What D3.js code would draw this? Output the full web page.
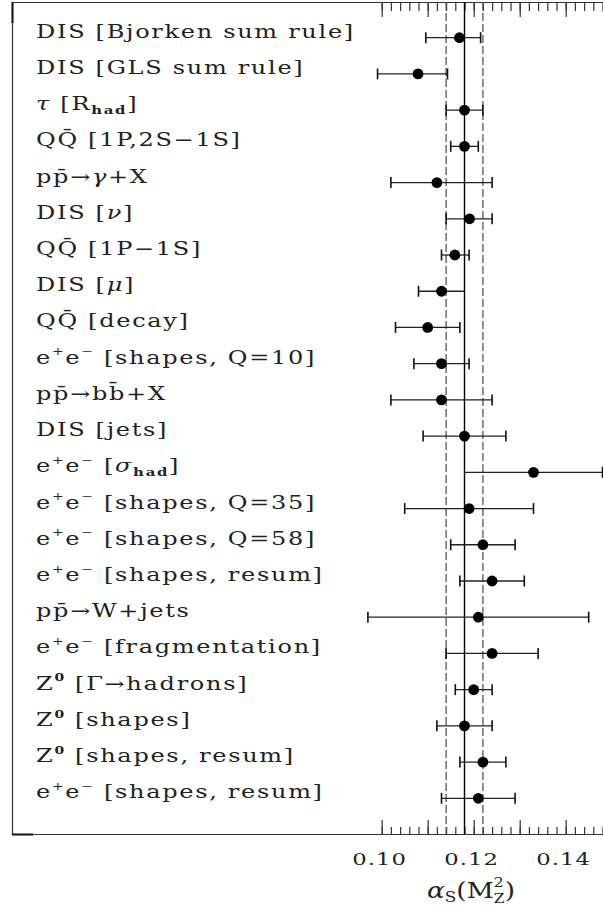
<!DOCTYPE html>
<html>
<head>
<meta charset="utf-8">
<script src="https://cdn.jsdelivr.net/npm/d3@7"></script>
<style>
  html, body { margin: 0; padding: 0; background: #fff; }
  svg { display: block; }
  text { font-family: "DejaVu Serif", serif; fill: #222; }
</style>
</head>
<body>
<div id="chart"></div>
<script>
// measurements, top to bottom
const labels = [
    "DIS [Bjorken sum rule]",
    "DIS [GLS sum rule]",
    "τ [R_{had}]",
    "QQ̄ [1P,2S−1S]",
    "pp̄→γ+X",
    "DIS [ν]",
    "QQ̄ [1P−1S]",
    "DIS [μ]",
    "QQ̄ [decay]",
    "e^{+}e^{−} [shapes, Q=10]",
    "pp̄→bb̄+X",
    "DIS [jets]",
    "e^{+}e^{−} [σ_{had}]",
    "e^{+}e^{−} [shapes, Q=35]",
    "e^{+}e^{−} [shapes, Q=58]",
    "e^{+}e^{−} [shapes, resum]",
    "pp̄→W+jets",
    "e^{+}e^{−} [fragmentation]",
    "Z^{0} [Γ→hadrons]",
    "Z^{0} [shapes]",
    "Z^{0} [shapes, resum]",
    "e^{+}e^{−} [shapes, resum]"
];
const central = [0.1169, 0.1079, 0.118, 0.118, 0.112, 0.1191, 0.1159, 0.113, 0.110, 0.113, 0.113,
                 0.118, 0.133, 0.119, 0.122, 0.124, 0.121, 0.124, 0.120, 0.118, 0.122, 0.121];
const lower   = [0.1096, 0.0991, 0.114, 0.115, 0.102, 0.114, 0.113, 0.108, 0.103, 0.107, 0.102,
                 0.109, 0.118, 0.105, 0.115, 0.117, 0.097, 0.114, 0.116, 0.112, 0.117, 0.113];
const upper   = [0.1215, 0.1143, 0.122, 0.121, 0.124, 0.124, 0.119, 0.118, 0.117, 0.119, 0.124,
                 0.127, 0.148, 0.133, 0.129, 0.131, 0.145, 0.134, 0.124, 0.124, 0.127, 0.129];
// side of the bar drawn without an end cap
const openSide = ["", "", "", "", "", "", "", "hi", "", "", "",
                  "", "lo", "", "", "", "", "", "", "", "", ""];

const worldAverage = 0.118;
const averageBand = [0.114, 0.122];
const tickLabels = ["0.10", "0.12", "0.14"];

const W = 603, H = 915;
const TXT_SX = 1.3;
const LABEL_SIZE = 18.5;

const svg = d3.select("#chart").append("svg")
    .attr("width", W)
    .attr("height", H);

const x = d3.scaleLinear().domain([0.10, 0.15]).range([381.7, 611.7]);
const y = d3.scalePoint().domain(d3.range(labels.length)).range([37.7, 798.3]);

const frameTop = 2, frameBottom = 834, frameLeft = 12;

// frame
svg.append("path")
    .attr("d", `M${W + 5},${frameTop + 0.5}H${frameLeft + 0.5}V${frameBottom + 0.5}H${W + 5}`)
    .attr("fill", "none")
    .attr("stroke", "#333")
    .attr("stroke-width", 1.2);
svg.append("path")
    .attr("d", `M${frameLeft + 0.5},${frameTop}V${frameTop + 21}M${frameLeft},${frameBottom + 0.5}H${frameLeft + 21}`)
    .attr("stroke", "#111")
    .attr("stroke-width", 2);

// ticks, inward on top and bottom
const minor = d3.range(50, 76).map(i => i * 0.002);
const major = d3.range(10, 16).map(i => i * 0.01);

function tickAxis(axis, values, size, ty) {
    const g = svg.append("g")
        .attr("transform", `translate(0,${ty})`)
        .call(axis(x).tickValues(values).tickSize(size).tickFormat(""));
    g.select(".domain").remove();
    g.selectAll(".tick line").attr("stroke", "#333").attr("stroke-width", 1.2);
}
tickAxis(d3.axisTop, minor, 7, frameBottom);
tickAxis(d3.axisTop, major, 14, frameBottom);
tickAxis(d3.axisBottom, minor, 9, frameTop);
tickAxis(d3.axisBottom, major, 15, frameTop);

svg.append("g").selectAll("g")
    .data(tickLabels)
    .join("g")
    .attr("transform", d => `translate(${x(+d) - 2},865) scale(${TXT_SX},1)`)
    .append("text")
    .attr("text-anchor", "middle")
    .attr("font-size", 17.5)
    .attr("letter-spacing", 0.8)
    .text(d => d);

// world average and band
svg.append("g").selectAll("line")
    .data(averageBand)
    .join("line")
    .attr("x1", d => x(d)).attr("x2", d => x(d))
    .attr("y1", frameTop).attr("y2", frameBottom)
    .attr("stroke", "#555")
    .attr("stroke-width", 1.3)
    .attr("stroke-dasharray", "8,3");
svg.append("line")
    .attr("x1", x(worldAverage)).attr("x2", x(worldAverage))
    .attr("y1", frameTop).attr("y2", frameBottom)
    .attr("stroke", "#000")
    .attr("stroke-width", 1.4);

// error bars and points
const rows = svg.append("g").selectAll("g")
    .data(labels.map((l, i) => i))
    .join("g")
    .attr("transform", i => `translate(0,${y(i)})`);

rows.append("line")
    .attr("x1", i => x(lower[i])).attr("x2", i => x(upper[i]))
    .attr("stroke", "#222")
    .attr("stroke-width", 1.3);
rows.filter(i => openSide[i] !== "lo").append("line")
    .attr("x1", i => x(lower[i])).attr("x2", i => x(lower[i]))
    .attr("y1", -5.5).attr("y2", 5.5)
    .attr("stroke", "#111").attr("stroke-width", 1.6);
rows.filter(i => openSide[i] !== "hi").append("line")
    .attr("x1", i => x(upper[i])).attr("x2", i => x(upper[i]))
    .attr("y1", -5.5).attr("y2", 5.5)
    .attr("stroke", "#111").attr("stroke-width", 1.6);
rows.append("circle")
    .attr("cx", i => x(central[i]))
    .attr("r", 5.4)
    .attr("fill", "#000");

// labels with ^{sup} / _{sub} markup, greek in italic
function richText(sel, str, size) {
    const parts = str.split(/(\^\{[^}]*\}|_\{[^}]*\})/).filter(p => p !== "");
    let shift = 0;
    parts.forEach(p => {
        let dy = 0, fs = size, txt = p, weight = null;
        if (p.startsWith("^{")) {
            txt = p.slice(2, -1); fs = size * 0.58; dy = -size * 0.45;
            if (txt === "0") weight = "bold";
        } else if (p.startsWith("_{")) {
            txt = p.slice(2, -1); fs = size * 0.62; dy = size * 0.22; weight = "bold";
        }
        const pieces = txt.split(/([α-ω])/).filter(s => s !== "");
        pieces.forEach((s, k) => {
            const t = sel.append("tspan")
                .attr("font-size", fs)
                .attr("dy", (k === 0 ? dy - shift : 0))
                .text(s);
            if (/[α-ω]/.test(s)) t.attr("font-style", "italic");
            if (weight) t.attr("font-weight", weight);
        });
        shift = dy;
    });
}

svg.append("g").selectAll("g")
    .data(labels)
    .join("g")
    .attr("transform", (d, i) => `translate(36,${y(i)}) scale(${TXT_SX},1)`)
    .append("text")
    .attr("font-size", LABEL_SIZE)
    .attr("letter-spacing", 1.3)
    .each(function (d) { richText(d3.select(this), d, LABEL_SIZE); });

// axis title
const title = svg.append("g")
    .attr("transform", `translate(427,898) scale(1.2,1)`)
    .append("text")
    .attr("font-size", 22);
title.append("tspan").attr("font-style", "italic").text("α");
title.append("tspan").attr("font-size", 14).attr("dy", 4).text("S");
title.append("tspan").attr("dy", -4).text("(M");
title.append("tspan").attr("font-size", 13).attr("dy", 5).text("Z");
title.append("tspan").attr("font-size", 13).attr("dx", -9).attr("dy", -16).text("2");
title.append("tspan").attr("dy", 11).attr("dx", 1).text(")");
</script>
</body>
</html>
